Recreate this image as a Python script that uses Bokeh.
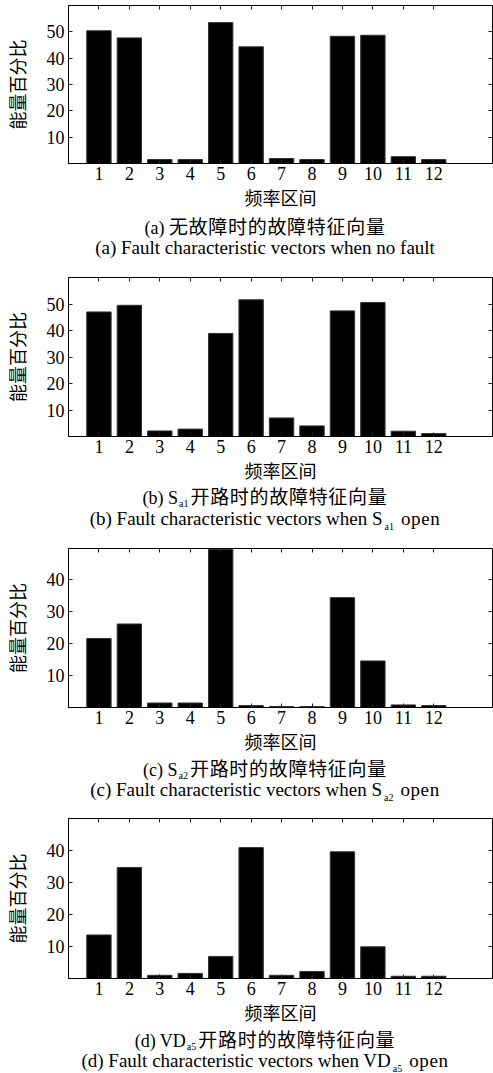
from bokeh.plotting import figure
from bokeh.models import FixedTicker, LinearAxis, Range1d, ColumnDataSource, Div
from bokeh.layouts import column
from bokeh.embed import file_html
from bokeh.resources import INLINE

# ---------------- data ----------------
intervals = list(range(1, 13))
x_tick_labels = [str(i) for i in intervals]
energy_a = [50.4, 47.7, 1.5, 1.5, 53.5, 44.3, 1.9, 1.5, 48.3, 48.7, 2.6, 1.5]
energy_b = [47.0, 49.5, 2.1, 2.8, 38.9, 51.6, 7.0, 4.0, 47.4, 50.6, 2.0, 1.1]
energy_c = [21.5, 26.0, 1.4, 1.4, 49.2, 0.6, 0.3, 0.3, 34.2, 14.5, 0.8, 0.6]
energy_d = [13.6, 34.7, 1.0, 1.6, 6.9, 40.9, 1.0, 2.2, 39.6, 9.9, 0.7, 0.7]
y_max = [60, 60, 49.5, 50]
y_ticks_ab = [10, 20, 30, 40, 50]
y_ticks_cd = [10, 20, 30, 40]
y_label = "能量百分比"
x_label = "频率区间"

caption_zh = [
    [("(a) ", "L"), ("无故障时的故障特征向量", "C")],
    [("(b) S", "L"), ("a1", "S"), ("开路时的故障特征向量", "C")],
    [("(c) S", "L"), ("a2", "S"), ("开路时的故障特征向量", "C")],
    [("(d) VD", "L"), ("a5", "S"), ("开路时的故障特征向量", "C")],
]
caption_en = [
    [("(a) Fault characteristic vectors when no fault", "E")],
    [("(b) Fault characteristic vectors when S", "E"), ("a1", "T"), ("open", "O")],
    [("(c) Fault characteristic vectors when S", "E"), ("a2", "T"), ("open", "O")],
    [("(d) Fault characteristic vectors when VD", "E"), ("a5", "T"), ("open", "O")],
]

LATIN = "Liberation Serif"
CJK = "Noto Sans CJK SC"
W = 493


def make_panel(vals, ymax, yticks, height, frame_h):
    border_top = 5
    border_bottom = height - border_top - frame_h
    p = figure(width=W, height=height, output_backend="svg",
               toolbar_location=None, x_range=Range1d(0, 13.93),
               y_range=Range1d(0, ymax), min_border_left=66,
               min_border_right=1, min_border_top=border_top,
               min_border_bottom=border_bottom, background_fill_color="white",
               border_fill_color="white")
    p.outline_line_color = "black"
    p.outline_line_width = 1
    p.xgrid.grid_line_color = None
    p.ygrid.grid_line_color = None

    src = ColumnDataSource(dict(x=intervals, top=vals))
    p.vbar(x="x", top="top", width=0.8, source=src, fill_color="black",
           line_color="#333333", line_width=1)

    for ax in (p.xaxis[0], p.yaxis[0]):
        ax.major_tick_in = 4
        ax.major_tick_out = 0
        ax.minor_tick_line_color = None
        ax.major_tick_line_color = "#222222"
        ax.axis_line_color = "black"
        ax.major_label_text_font = LATIN
        ax.major_label_text_font_size = "18px"
        ax.major_label_text_color = "black"
        ax.axis_label_text_font = CJK
        ax.axis_label_text_font_size = "18px"
        ax.axis_label_text_font_style = "normal"
        ax.axis_label_text_color = "black"

    p.xaxis.ticker = FixedTicker(ticks=intervals)
    p.xaxis.major_label_overrides = {i: s for i, s in zip(intervals, x_tick_labels)}
    p.xaxis.major_label_standoff = 3
    p.xaxis.axis_label = x_label
    p.xaxis.axis_label_standoff = 1

    p.yaxis.ticker = FixedTicker(ticks=yticks)
    p.yaxis.major_label_standoff = 4
    p.yaxis.axis_label = y_label
    p.yaxis.axis_label_standoff = 14

    for ticks, side in ((intervals, "above"), (yticks, "right")):
        ax = LinearAxis(ticker=FixedTicker(ticks=ticks), major_tick_in=4,
                        major_tick_out=0, major_label_text_font_size="1px",
                        major_label_text_color=None, major_label_standoff=0,
                        axis_line_color=None, minor_tick_line_color=None,
                        major_tick_line_color="#222222")
        p.add_layout(ax, side)
    return p


def span(text, kind):
    if kind == "L":
        st = f"font-family:'{LATIN}';font-size:18px;"
    elif kind == "E":
        st = f"font-family:'{LATIN}';font-size:19px;"
    elif kind == "O":
        st = f"font-family:'{LATIN}';font-size:19px;margin-left:6px;letter-spacing:0.6px;"
    elif kind == "S":
        st = (f"font-family:'{LATIN}';font-size:10px;position:relative;top:3px;"
              "margin-left:1px;margin-right:2px;")
    elif kind == "T":
        st = (f"font-family:'{LATIN}';font-size:10px;position:relative;top:5px;"
              "margin-left:2px;margin-right:1px;")
    else:
        st = f"font-family:'{CJK}';font-size:19px;letter-spacing:0.7px;"
    return f'<span style="{st}">{text}</span>'


def make_caption(height, zh_parts, en_parts, zh_y, en_y):
    def line(parts, y):
        inner = "".join(span(t, k) for t, k in parts)
        return (f'<div style="position:absolute;left:37px;width:456px;top:{y}px;'
                'height:0px;line-height:0px;text-align:center;white-space:nowrap;'
                f'color:black;">{inner}</div>')
    html = (f'<div style="position:relative;width:{W}px;height:{height}px;">'
            + line(zh_parts, zh_y) + line(en_parts, en_y) + '</div>')
    return Div(text=html, width=W, height=height, margin=0,
               styles={"overflow": "visible"})


panel_a = make_panel(energy_a, y_max[0], y_ticks_ab, 215, 158)
cap_a = make_caption(57, caption_zh[0], caption_en[0], 10.7, 32.5)
panel_b = make_panel(energy_b, y_max[1], y_ticks_ab, 216, 159)
cap_b = make_caption(55, caption_zh[1], caption_en[1], 8, 31)
panel_c = make_panel(energy_c, y_max[2], y_ticks_cd, 216, 159)
cap_c = make_caption(54, caption_zh[2], caption_en[2], 8.5, 31)
panel_d = make_panel(energy_d, y_max[3], y_ticks_cd, 217, 160)
cap_d = make_caption(42, caption_zh[3], caption_en[3], 8.5, 31)

layout = column(panel_a, cap_a, panel_b, cap_b, panel_c, cap_c, panel_d, cap_d,
                spacing=0)
open("out.html", "w").write(file_html(layout, INLINE))
